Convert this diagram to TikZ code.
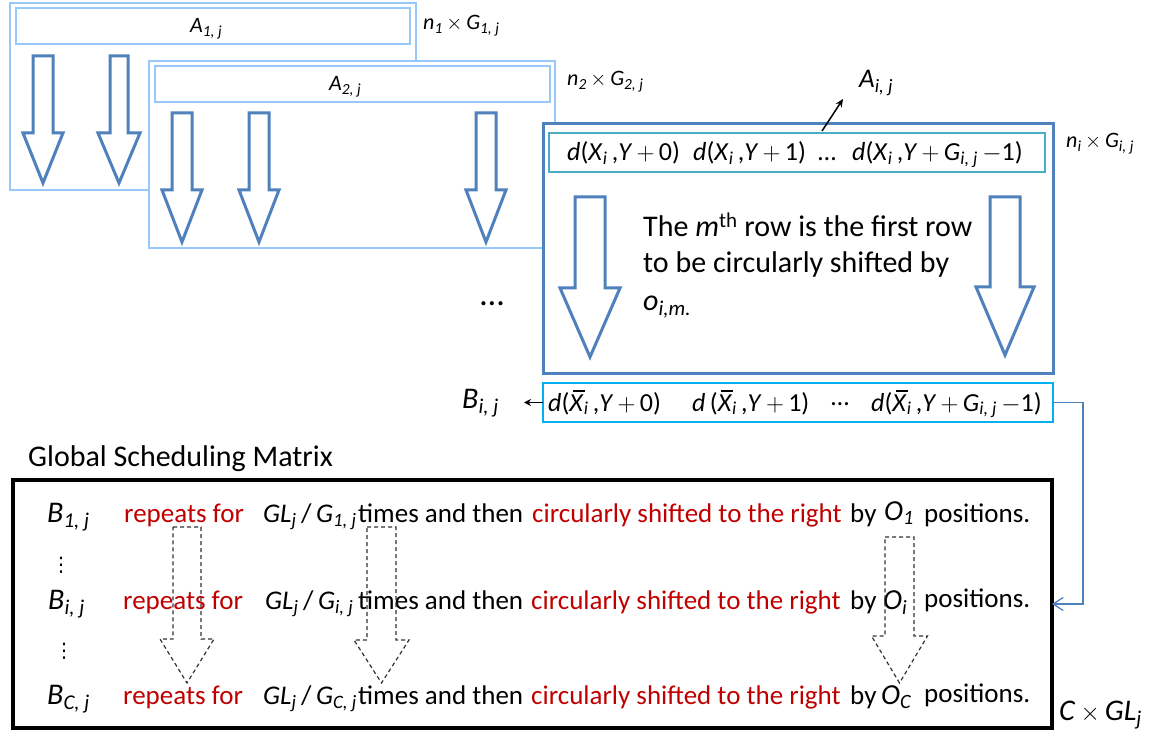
\documentclass[tikz,border=0pt]{standalone}
\usepackage{fontspec}
\setmainfont{Carlito}
\newfontfamily\dejavu{DejaVu Sans}
\usetikzlibrary{arrows.meta}
\definecolor{lblue}{RGB}{150,200,250}
\definecolor{sblue}{RGB}{79,129,189}
\definecolor{tealb}{RGB}{75,172,198}
\definecolor{cyanb}{RGB}{0,176,240}
\definecolor{dred}{RGB}{192,0,0}
\newcommand\sbi[1]{\textsubscript{\itshape #1}}
\newcommand\xbar{\leavevmode\rlap{\hspace{0.14em}\rule[0.74em]{0.45em}{0.05em}}\textit{X}}
\newcommand\boxnode[6][]{\node[#1, minimum width={#5-#3}, minimum height={#6-#4}, anchor=north west, inner sep=0pt, outer sep=0pt] (#2) at (#3,#4) {};}
\newcommand\blkarrow[7][barrow]{\draw[#1] (#2-#3,#5) -- (#2+#3,#5) -- (#2+#3,#6) -- (#2+#4,#6) -- (#2,#7) -- (#2-#4,#6) -- (#2-#3,#6) -- cycle;}
\begin{document}
\begin{tikzpicture}[x=1pt,y=-1pt,
  lbox/.style={draw=lblue,line width=2.5pt,fill=white},
  lbar/.style={draw=lblue,line width=2pt,fill=white},
  ibox/.style={draw=sblue,line width=3pt,fill=white},
  tbar/.style={draw=tealb,line width=2pt,fill=white},
  bbar/.style={draw=cyanb,line width=2.5pt,fill=white},
  gbox/.style={draw=black,line width=3.5pt},
  barrow/.style={draw=sblue,line width=3pt,fill=white,line join=miter},
  darrow/.style={draw=black!80,line width=1.2pt,dash pattern=on 4pt off 3pt},
  txt/.style={inner sep=0pt,anchor=base west},
  f20/.style={font=\fontsize{20}{24}\selectfont},
  f22/.style={font=\fontsize{22}{26}\selectfont},
  f26/.style={font=\fontsize{26}{31}\selectfont},
  f27/.style={font=\fontsize{27}{32}\selectfont},
  f29/.style={font=\fontsize{29}{34}\selectfont},
  f30/.style={font=\fontsize{30}{36}\selectfont},
  f34/.style={font=\fontsize{34}{40}\selectfont},
  vd/.style={font=\dejavu\fontsize{20}{24}\selectfont,inner sep=0pt},
  red/.style={text=dred}]
\useasboundingbox (0,0) rectangle (1151,735);
\fill[white] (0,0) rectangle (1151,735);

% ---- A1 ----
\boxnode[lbox]{A1}{10}{3}{416}{190}
\boxnode[lbar]{A1bar}{16}{8}{410}{44}
\node[txt,f22] (a1lab) at (190,33) {\textit{A}\sbi{1, j}};
\node[txt,f22] (n1) at (423,30) {\textit{n}\sbi{1}\,$\times$\,\textit{G}\sbi{1, j}};
\blkarrow{43}{10}{20}{56}{133}{183}
\blkarrow{119}{9}{21}{56}{133}{183}

% ---- A2 ----
\boxnode[lbox]{A2}{149}{61}{555}{248}
\boxnode[lbar]{A2bar}{155}{66}{550}{102}
\node[txt,f22] (a2lab) at (329,91) {\textit{A}\sbi{2, j}};
\node[txt,f22] (n2) at (567,86) {\textit{n}\sbi{2}\,$\times$\,\textit{G}\sbi{2, j}};
\blkarrow{182}{10}{20}{113}{190}{242}
\blkarrow{259}{10}{20}{113}{190}{242}
\blkarrow{486}{10}{20}{113}{190}{242}

% ---- Ai ----
\boxnode[ibox]{Ai}{543}{124}{1053}{373}
\boxnode[tbar]{Aibar}{549}{133}{1045}{172}
\node[txt,f26] (ta) at (567,161) {\textit{d}(\textit{X}\sbi{i}\,,\textit{Y}\,$+$\,0)};
\node[txt,f26] (tb) at (693,161) {\textit{d}(\textit{X}\sbi{i}\,,\textit{Y}\,$+$\,1)};
\node[txt,f26] (tc) at (818,161) {…};
\node[txt,f26] (td) at (852,161) {\textit{d}(\textit{X}\sbi{i}\,,\textit{Y}\,$+$\,\textit{G}\sbi{i, j}\,$-$1)};
\blkarrow{590}{15}{30}{197}{288}{357}
\blkarrow{1005}{15}{29}{197}{287}{355}
\node[txt,f30] (l1) at (643,237) {The \textit{m}\textsuperscript{th} row is the first row};
\node[txt,f30] (l2) at (643,273) {to be circularly shifted by};
\node[txt,f30] (l3) at (643,310) {\textit{o}\sbi{i,m.}};
\node[txt,f27] (ailab) at (859,88) {\textit{A}\sbi{i, j}};
\node[txt,f22] (ni) at (1066,148) {\textit{n}\sbi{i}\,$\times$\,\textit{G}\sbi{i, j}};
\coordinate (aistart) at (822,131);
\coordinate (aitip) at (843,99);
\draw[line width=1.5pt,-{Stealth[length=8pt,width=7pt]}] (aistart) -- (aitip);
\node[f34,inner sep=0pt] (dots) at (492,304) {…};

% ---- B bar ----
\boxnode[bbar]{Bbar}{543}{383}{1053}{422}
\node[txt,f26] (ba) at (548,411) {\textit{d}(\xbar\sbi{i}\,,\textit{Y}\,$+$\,0)};
\node[txt,f26] (bb) at (692,411) {\textit{d}\,(\xbar\sbi{i}\,,\textit{Y}\,$+$\,1)};
\node[txt,f26] (bc) at (831,411) {\raisebox{0.22em}{…}};
\node[txt,f26] (bd) at (871,411) {\textit{d}(\xbar\sbi{i}\,,\textit{Y}\,$+$\,\textit{G}\sbi{i, j}\,$-$1)};
\node[txt,f30] (blab) at (462,408) {\textit{B}\sbi{i, j}};
\coordinate (btip) at (524,402.5);
\draw[line width=1.3pt,-{Stealth[length=7pt,width=7pt]}] (Bbar.west) -- (btip);

% ---- Global scheduling matrix ----
\node[txt,f30] (gtitle) at (28,466) {Global Scheduling Matrix};
\boxnode[gbox]{GSM}{13}{480}{1052}{728}
\draw[sblue,line width=1.3pt,-{Straight Barb[length=10pt,width=13pt]}] (Bbar.east) -- ++(30,0) |- (GSM.east);
\node[txt,f30] (clab) at (1059,720) {\textit{C}\,$\times$\,\textit{GL}\sbi{j}};

% row 1
\node[txt,f30] (r1b) at (47,522) {\textit{B}\sbi{1, j}};
\node[txt,f27,red] (r1r) at (124,522) {repeats for};
\node[txt,f27] (r1g) at (263,522) {\textit{GL}\sbi{j}\,/\,\textit{G}\sbi{1, j}};
\node[txt,f27] (r1t) at (358,522) {times and then};
\node[txt,f27,red] (r1c) at (532,522) {circularly shifted to the right};
\node[txt,f27] (r1y) at (850,522) {by};
\node[txt,f29] (r1o) at (884,520) {\textit{O}\sbi{1}};
\node[txt,f27] (r1p) at (924,522) {positions.};
% row 2
\node[txt,f30] (r2b) at (48,609) {\textit{B}\sbi{i, j}};
\node[txt,f27,red] (r2r) at (123,609) {repeats for};
\node[txt,f27] (r2g) at (265,609) {\textit{GL}\sbi{j}\,/\,\textit{G}\sbi{i, j}};
\node[txt,f27] (r2t) at (358,609) {times and then};
\node[txt,f27,red] (r2c) at (531,609) {circularly shifted to the right};
\node[txt,f27] (r2y) at (850,609) {by};
\node[txt,f29] (r2o) at (883,609) {\textit{O}\sbi{i}};
\node[txt,f27] (r2p) at (924,607) {positions.};
% row 3
\node[txt,f30] (r3b) at (47,704) {\textit{B}\sbi{C, j}};
\node[txt,f27,red] (r3r) at (123,704) {repeats for};
\node[txt,f27] (r3g) at (263,704) {\textit{GL}\sbi{j}\,/\,\textit{G}\sbi{C, j}};
\node[txt,f27] (r3t) at (358,704) {times and then};
\node[txt,f27,red] (r3c) at (531,704) {circularly shifted to the right};
\node[txt,f27] (r3y) at (850,704) {by};
\node[txt,f29] (r3o) at (881,704) {\textit{O}\sbi{C}};
\node[txt,f27] (r3p) at (924,702) {positions.};
% vertical dots
\node[vd] (vd1) at (61,565) {⋮};
\node[vd] (vd2) at (64,651) {⋮};

% dashed arrows
\blkarrow[darrow]{187}{14}{27}{527}{639}{683}
\blkarrow[darrow]{381.5}{14.5}{27.5}{527}{640}{683}
\blkarrow[darrow]{899.5}{14.5}{28}{537}{636}{683}
\end{tikzpicture}
\end{document}
